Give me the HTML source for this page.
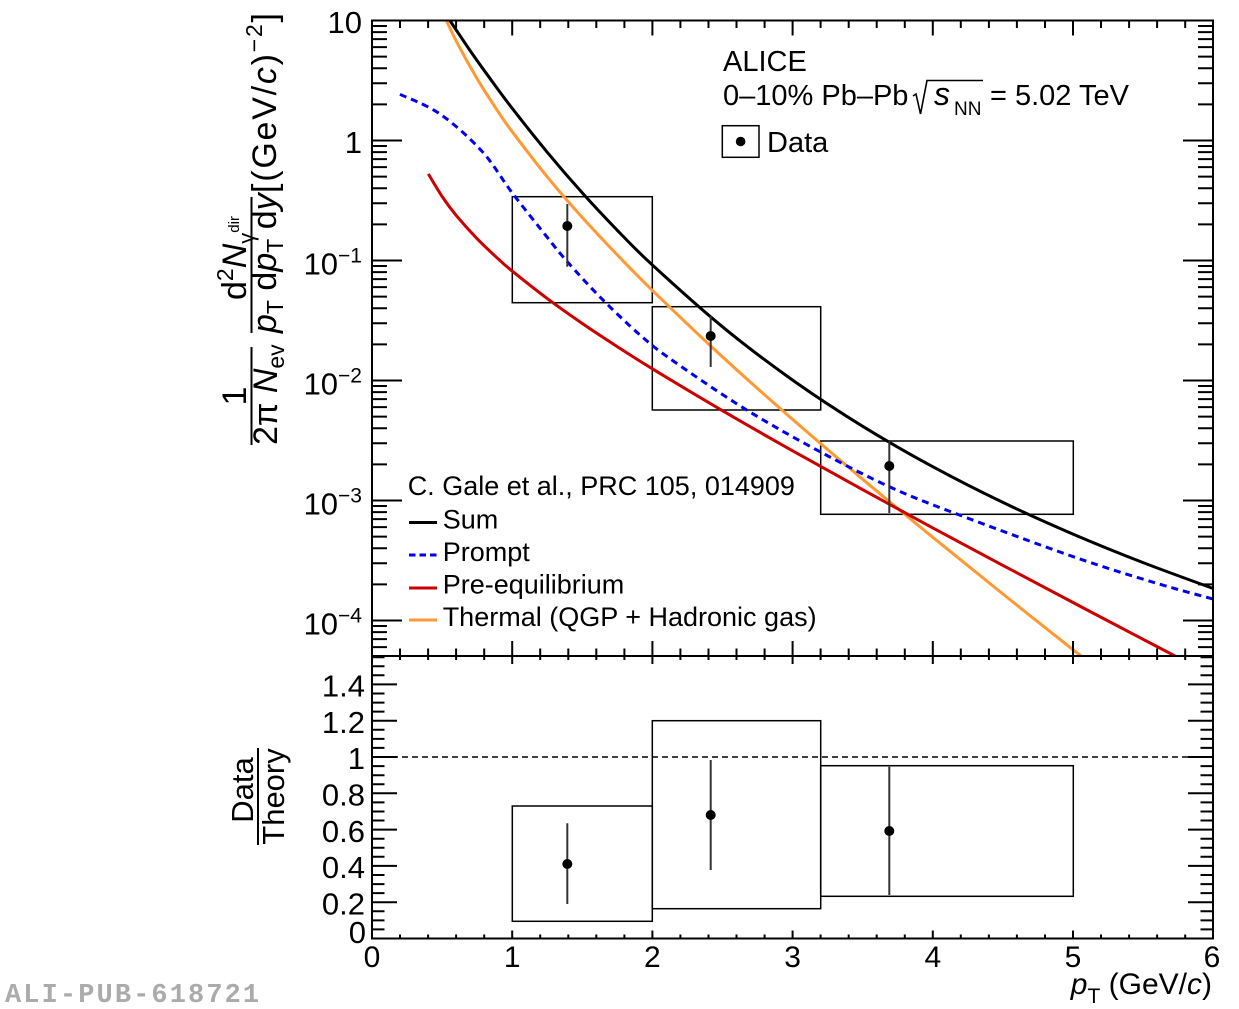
<!DOCTYPE html>
<html><head><meta charset="utf-8"><style>
html,body{margin:0;padding:0;background:#fff;overflow:hidden}
svg{display:block}
text{font-family:"Liberation Sans",Arial,sans-serif;fill:#000}
</style></head><body>
<svg xmlns="http://www.w3.org/2000/svg" width="1239" height="1009" viewBox="0 0 1239 1009">
<defs><clipPath id="cp"><rect x="372" y="20.5" width="841" height="635.5"/></clipPath></defs>
<rect x="0" y="0" width="1239" height="1009" fill="#fff"/>

<!-- boxes -->
<g fill="none" stroke="#000" stroke-width="1.5">
<rect x="512.3" y="196.7" width="140" height="106"/>
<rect x="652.3" y="306.7" width="168.4" height="103.3"/>
<rect x="820.7" y="441" width="252.6" height="73.3"/>
<rect x="512.3" y="806" width="140" height="115.3"/>
<rect x="652.3" y="720.7" width="168.4" height="188"/>
<rect x="820.7" y="765.7" width="252.6" height="130.6"/>
<line x1="372" y1="757" x2="1213" y2="757" stroke-dasharray="6 4"/>
</g>

<!-- curves -->
<g clip-path="url(#cp)" fill="none" stroke-width="3">
<path stroke="#ff9933" d="M442.1 11 C444.43 15.97 450.25 29.48 456.1 40.8 S470.18 67.07 477.2 78.9 S492.37 103 498.2 111.8 S504.02 120.85 512.2 131.7 S535.62 162.6 547.3 176.9 S570.62 204.48 582.3 217.5 S605.72 242.85 617.4 255 S634.88 273.42 652.4 290.4 S699.13 335.4 722.5 356.9 S769.23 399 792.6 419.4 S839.33 459.65 862.7 479.3 S909.43 518.18 932.8 537.3 S979.53 575.27 1002.9 594 S1056.65 636.75 1073 649.7 S1096.33 668.03 1101 671.7"/>
<path stroke="#cc0000" d="M428.3 173.9 C430.6 177.67 437.47 189.6 442.1 196.5 S450.25 208.25 456.1 215.3 S470.18 231.53 477.2 238.8 S492.37 253.52 498.2 258.9 S504.02 264.48 512.2 271.1 S535.62 289.87 547.3 298.6 S570.62 315.48 582.3 323.5 S605.72 339.15 617.4 346.7 S634.88 358.13 652.4 368.8 S699.13 397.03 722.5 410.7 S769.23 437.63 792.6 450.8 S839.33 476.85 862.7 489.7 S909.43 515.28 932.8 527.9 S979.53 552.97 1002.9 565.4 S1049.63 590.18 1073 602.5 S1123.23 628.9 1143.1 639.3 S1184.02 660.63 1192.2 664.9"/>
<path stroke="#0000ee" stroke-dasharray="7 5" d="M400 94.3 C406.67 97.58 426.38 104.55 440 114 S469.65 137.83 481.7 151 S501.42 178.67 512.3 193 S537.93 225.67 547 237 S557.87 251 566.7 261 S587.78 284.67 600 297 S627.78 324.33 640 335 S655.52 348.5 673.3 361 S722.25 394.88 746.7 410 S796.12 438.87 820 451.7 S867.5 476.73 890 487 S924.45 501.68 955 513.3 S1039.68 545.03 1073.3 556.7 S1133.42 576.25 1156.7 583.3 S1203.62 596.38 1213 599 L1222 601.5"/>
<path stroke="#000" d="M442.1 8.8 C446.77 15.77 461.92 38.72 470.1 50.6 S484.18 70.48 491.2 80.1 S502.85 96.27 512.2 108.3 S535.62 138.2 547.3 152.3 S570.62 179.88 582.3 192.9 S605.72 218.38 617.4 230.4 S634.88 248.93 652.4 265 S699.13 307.62 722.5 326.8 S769.23 363.52 792.6 380.1 S839.33 411.87 862.7 426.3 S909.43 454.02 932.8 466.7 S979.53 491.17 1002.9 502.4 S1049.63 524.07 1073 534.1 S1119.73 553.53 1143.1 562.6 S1198.72 583.18 1213.2 588.5 S1227.2 593.5 1230 594.5"/>
</g>

<!-- error bars & points -->
<g stroke="#333" stroke-width="2">
<line x1="567.3" y1="204" x2="567.3" y2="266.7"/>
<line x1="710.7" y1="316" x2="710.7" y2="367"/>
<line x1="889.3" y1="441" x2="889.3" y2="513"/>
<line x1="567.3" y1="823.3" x2="567.3" y2="904"/>
<line x1="710.7" y1="760" x2="710.7" y2="870"/>
<line x1="889.3" y1="766.7" x2="889.3" y2="895"/>
</g>
<g fill="#000">
<circle cx="567.3" cy="226" r="5"/>
<circle cx="710.7" cy="336" r="5"/>
<circle cx="889.3" cy="466" r="5"/>
<circle cx="567.3" cy="864" r="5"/>
<circle cx="710.7" cy="815" r="5"/>
<circle cx="889.3" cy="831" r="5"/>
</g>

<!-- frame & ticks -->
<g fill="none" stroke="#000" stroke-width="2">
<rect x="372" y="20.5" width="841" height="918"/>
<line x1="372" y1="656" x2="1213" y2="656"/>
<path d="M372 140.5h30M372 260.5h30M372 380.5h30M372 500.5h30M372 620.5h30M1213 140.5h-30M1213 260.5h-30M1213 380.5h-30M1213 500.5h-30M1213 620.5h-30M372 20.5h30M1213 20.5h-30"/>
<path d="M372 26h15M372 32.1h15M372 39.1h15M372 47.1h15M372 56.6h15M372 68.3h15M372 83.3h15M372 104.4h15M372 146h15M372 152.1h15M372 159.1h15M372 167.1h15M372 176.6h15M372 188.3h15M372 203.3h15M372 224.4h15M372 266h15M372 272.1h15M372 279.1h15M372 287.1h15M372 296.6h15M372 308.3h15M372 323.3h15M372 344.4h15M372 386h15M372 392.1h15M372 399.1h15M372 407.1h15M372 416.6h15M372 428.3h15M372 443.3h15M372 464.4h15M372 506h15M372 512.1h15M372 519.1h15M372 527.1h15M372 536.6h15M372 548.3h15M372 563.3h15M372 584.4h15M372 626h15M372 632.1h15M372 639.1h15M372 647.1h15"/>
<path d="M1213 26h-15M1213 32.1h-15M1213 39.1h-15M1213 47.1h-15M1213 56.6h-15M1213 68.3h-15M1213 83.3h-15M1213 104.4h-15M1213 146h-15M1213 152.1h-15M1213 159.1h-15M1213 167.1h-15M1213 176.6h-15M1213 188.3h-15M1213 203.3h-15M1213 224.4h-15M1213 266h-15M1213 272.1h-15M1213 279.1h-15M1213 287.1h-15M1213 296.6h-15M1213 308.3h-15M1213 323.3h-15M1213 344.4h-15M1213 386h-15M1213 392.1h-15M1213 399.1h-15M1213 407.1h-15M1213 416.6h-15M1213 428.3h-15M1213 443.3h-15M1213 464.4h-15M1213 506h-15M1213 512.1h-15M1213 519.1h-15M1213 527.1h-15M1213 536.6h-15M1213 548.3h-15M1213 563.3h-15M1213 584.4h-15M1213 626h-15M1213 632.1h-15M1213 639.1h-15M1213 647.1h-15"/>
<path d="M512.2 20.5v15M652.4 20.5v15M792.6 20.5v15M932.8 20.5v15M1073 20.5v15M512.2 641V664M652.4 641V664M792.6 641V664M932.8 641V664M1073 641V664M512.2 938.5v-8M652.4 938.5v-8M792.6 938.5v-8M932.8 938.5v-8M1073 938.5v-8"/>
<path d="M400 20.5v7.5M428.1 20.5v7.5M456.1 20.5v7.5M484.2 20.5v7.5M540.2 20.5v7.5M568.3 20.5v7.5M596.3 20.5v7.5M624.4 20.5v7.5M680.4 20.5v7.5M708.5 20.5v7.5M736.5 20.5v7.5M764.6 20.5v7.5M820.6 20.5v7.5M848.7 20.5v7.5M876.7 20.5v7.5M904.8 20.5v7.5M960.8 20.5v7.5M988.9 20.5v7.5M1016.9 20.5v7.5M1045 20.5v7.5M1101 20.5v7.5M1129.1 20.5v7.5M1157.1 20.5v7.5M1185.2 20.5v7.5"/>
<path d="M400 648.5V660M428.1 648.5V660M456.1 648.5V660M484.2 648.5V660M540.2 648.5V660M568.3 648.5V660M596.3 648.5V660M624.4 648.5V660M680.4 648.5V660M708.5 648.5V660M736.5 648.5V660M764.6 648.5V660M820.6 648.5V660M848.7 648.5V660M876.7 648.5V660M904.8 648.5V660M960.8 648.5V660M988.9 648.5V660M1016.9 648.5V660M1045 648.5V660M1101 648.5V660M1129.1 648.5V660M1157.1 648.5V660M1185.2 648.5V660"/>
<path d="M400 938.5v-4M428.1 938.5v-4M456.1 938.5v-4M484.2 938.5v-4M540.2 938.5v-4M568.3 938.5v-4M596.3 938.5v-4M624.4 938.5v-4M680.4 938.5v-4M708.5 938.5v-4M736.5 938.5v-4M764.6 938.5v-4M820.6 938.5v-4M848.7 938.5v-4M876.7 938.5v-4M904.8 938.5v-4M960.8 938.5v-4M988.9 938.5v-4M1016.9 938.5v-4M1045 938.5v-4M1101 938.5v-4M1129.1 938.5v-4M1157.1 938.5v-4M1185.2 938.5v-4"/>
<path d="M372 902.2h25M372 865.9h25M372 829.6h25M372 793.3h25M372 757h25M372 720.7h25M372 684.4h25M1213 902.2h-25M1213 865.9h-25M1213 829.6h-25M1213 793.3h-25M1213 757h-25M1213 720.7h-25M1213 684.4h-25"/>
<path d="M372 929.4h12.5M372 920.4h12.5M372 911.3h12.5M372 893.1h12.5M372 884.1h12.5M372 875h12.5M372 856.8h12.5M372 847.8h12.5M372 838.7h12.5M372 820.5h12.5M372 811.5h12.5M372 802.4h12.5M372 784.2h12.5M372 775.2h12.5M372 766.1h12.5M372 747.9h12.5M372 738.9h12.5M372 729.8h12.5M372 711.6h12.5M372 702.6h12.5M372 693.5h12.5M372 675.3h12.5M372 666.3h12.5M372 657.2h12.5"/>
<path d="M1213 929.4h-12.5M1213 920.4h-12.5M1213 911.3h-12.5M1213 893.1h-12.5M1213 884.1h-12.5M1213 875h-12.5M1213 856.8h-12.5M1213 847.8h-12.5M1213 838.7h-12.5M1213 820.5h-12.5M1213 811.5h-12.5M1213 802.4h-12.5M1213 784.2h-12.5M1213 775.2h-12.5M1213 766.1h-12.5M1213 747.9h-12.5M1213 738.9h-12.5M1213 729.8h-12.5M1213 711.6h-12.5M1213 702.6h-12.5M1213 693.5h-12.5M1213 675.3h-12.5M1213 666.3h-12.5M1213 657.2h-12.5"/>
</g>

<!-- y tick labels top -->
<g font-size="31" text-anchor="end">
<text x="362" y="33">10</text>
<text x="362" y="153">1</text>
<text x="362" y="274.5">10<tspan font-size="21" dy="-12">−1</tspan></text>
<text x="362" y="394.5">10<tspan font-size="21" dy="-12">−2</tspan></text>
<text x="362" y="514.5">10<tspan font-size="21" dy="-12">−3</tspan></text>
<text x="362" y="634.5">10<tspan font-size="21" dy="-12">−4</tspan></text>
</g>
<!-- y tick labels bottom -->
<g font-size="31" text-anchor="end">
<text x="365" y="696.5">1.4</text>
<text x="365" y="733">1.2</text>
<text x="365" y="769">1</text>
<text x="365" y="805.5">0.8</text>
<text x="365" y="842">0.6</text>
<text x="365" y="878">0.4</text>
<text x="365" y="914.5">0.2</text>
<text x="366" y="943">0</text>
</g>
<!-- x tick labels -->
<g font-size="30" text-anchor="middle">
<text x="372" y="967">0</text>
<text x="512.2" y="967">1</text>
<text x="652.4" y="967">2</text>
<text x="792.6" y="967">3</text>
<text x="932.8" y="967">4</text>
<text x="1073" y="967">5</text>
<text x="1212" y="967">6</text>
</g>
<!-- x title -->
<text x="1212" y="994" font-size="30" text-anchor="end"><tspan font-style="italic">p</tspan><tspan font-size="21" dy="9">T</tspan><tspan dy="-9"> (GeV/</tspan><tspan font-style="italic">c</tspan>)</text>

<!-- top-right text -->
<text x="723" y="71" font-size="29">ALICE</text>
<text x="723" y="105" font-size="29">0–10% Pb–Pb</text>
<path d="M913 96 L916 94 L920.5 114 L927 80.5 L983 80.5" fill="none" stroke="#000" stroke-width="1.6"/>
<text x="934" y="105" font-size="32" font-style="italic">s</text>
<text x="954" y="115" font-size="19">NN</text>
<text x="990" y="105" font-size="29">= 5.02 TeV</text>
<rect x="722.3" y="125.7" width="36.7" height="31.6" fill="none" stroke="#000" stroke-width="1.5"/>
<circle cx="740.6" cy="141.5" r="4.8" fill="#000"/>
<text x="767" y="152" font-size="29">Data</text>

<!-- model legend -->
<g font-size="27">
<text x="407.7" y="495">C. Gale et al., PRC 105, 014909</text>
<text x="442.7" y="528.5">Sum</text>
<text x="442.7" y="561">Prompt</text>
<text x="442.7" y="593.5">Pre-equilibrium</text>
<text x="442.7" y="626">Thermal (QGP + Hadronic gas)</text>
</g>
<g stroke-width="3">
<line x1="409" y1="522.5" x2="437" y2="522.5" stroke="#000"/>
<line x1="409" y1="555" x2="437" y2="555" stroke="#0000ee" stroke-dasharray="6.5 4"/>
<line x1="409" y1="588" x2="437" y2="588" stroke="#cc0000"/>
<line x1="409" y1="620" x2="437" y2="620" stroke="#ff9933"/>
</g>

<!-- y title top -->
<g transform="rotate(-90)" font-size="34">
<text x="-396" y="246" text-anchor="middle">1</text>
<text x="-445" y="277">2π <tspan font-style="italic">N</tspan><tspan font-size="23" dy="7">ev</tspan></text>
<text x="-300" y="246">d<tspan font-size="23" dy="-13">2</tspan><tspan font-style="italic" dy="13">N</tspan><tspan font-size="22" dy="8">γ</tspan><tspan font-size="15" dy="-15">dir</tspan></text>
<text x="-333" y="276"><tspan font-style="italic">p</tspan><tspan font-size="23" dy="7">T</tspan><tspan dy="-7"> d</tspan><tspan font-style="italic">p</tspan><tspan font-size="23" dy="7">T</tspan><tspan dy="-7"> d</tspan><tspan font-style="italic">y</tspan></text>
<text x="-193" y="276" textLength="180" lengthAdjust="spacing">[(GeV/<tspan font-style="italic">c</tspan>)<tspan font-size="23" dy="-14">−2</tspan><tspan dy="14">]</tspan></text>
</g>
<line x1="251.5" y1="347" x2="251.5" y2="445" stroke="#000" stroke-width="2"/>
<line x1="251.5" y1="197" x2="251.5" y2="333" stroke="#000" stroke-width="2"/>

<!-- y title bottom -->
<g transform="rotate(-90)" font-size="31">
<text x="-790" y="253" text-anchor="middle">Data</text>
<text x="-796.5" y="284" text-anchor="middle">Theory</text>
</g>
<line x1="258" y1="748" x2="258" y2="845" stroke="#000" stroke-width="2"/>

<text x="5" y="1002" font-size="27" font-weight="bold" style="fill:#ababab;font-family:'Liberation Mono',monospace" letter-spacing="2.1">ALI-PUB-618721</text>
</svg>
</body></html>
